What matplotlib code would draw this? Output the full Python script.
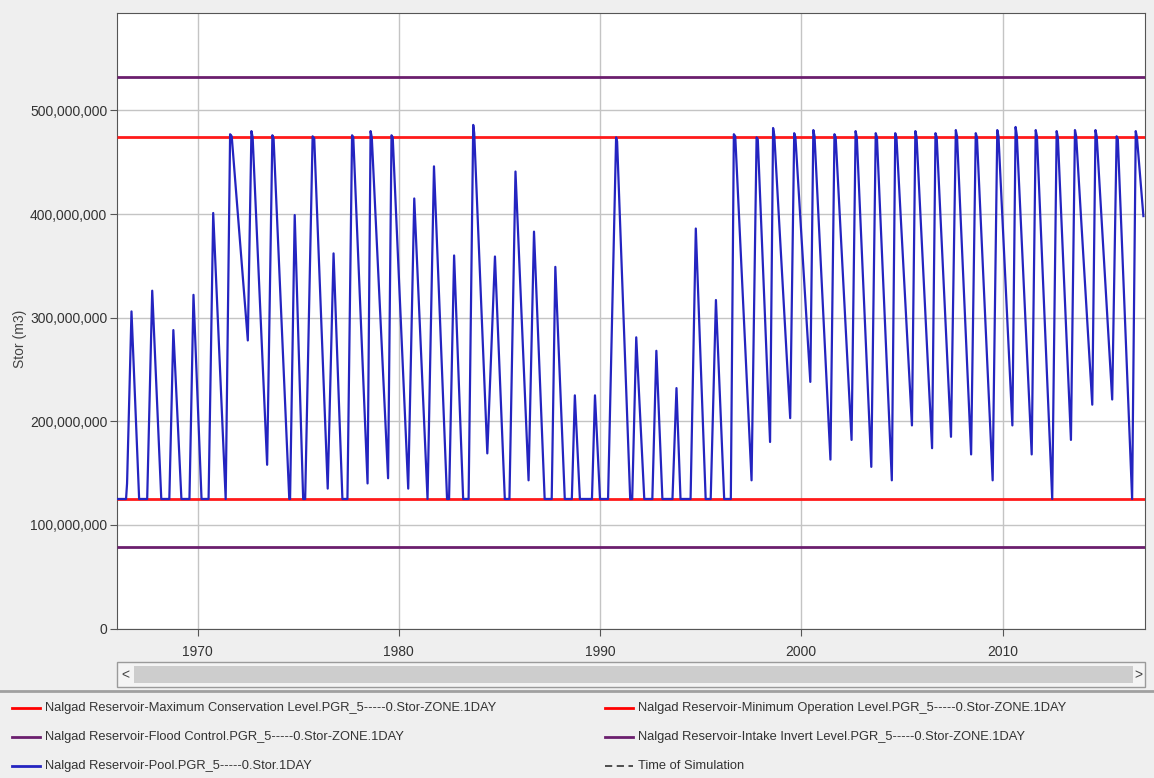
import matplotlib.pyplot as plt
from matplotlib.lines import Line2D
from matplotlib.patches import Rectangle
from matplotlib.ticker import FuncFormatter

plt.rcParams['font.family'] = ['Liberation Sans', 'DejaVu Sans']

# storage turning points of the pool, decimal year -> m3 (millions)
pool_anio = [
    1966.00, 1966.45, 1966.50, 1966.72, 1967.10, 1967.50, 1967.75, 1968.20, 1968.60, 1968.80,
    1969.20, 1969.60, 1969.80, 1970.20, 1970.55, 1970.78, 1971.40, 1971.62, 1971.70,
    1972.50, 1972.68, 1973.46, 1973.72, 1974.56, 1974.60, 1974.83, 1975.25, 1975.35,
    1975.72, 1975.80, 1976.47, 1976.76, 1977.20, 1977.45, 1977.68, 1977.74, 1978.45,
    1978.60, 1979.47, 1979.64, 1979.70, 1980.47, 1980.77, 1981.43, 1981.75, 1982.40,
    1982.50, 1982.75, 1983.20, 1983.47, 1983.70, 1984.40, 1984.78, 1985.27, 1985.50,
    1985.80, 1986.45, 1986.72, 1987.25, 1987.60, 1987.78, 1988.25, 1988.60, 1988.75,
    1989.00, 1989.60, 1989.75, 1990.00, 1990.40, 1990.80, 1991.50, 1991.60, 1991.80,
    1992.20, 1992.60, 1992.80, 1993.10, 1993.60, 1993.80, 1994.00, 1994.50, 1994.76,
    1995.25, 1995.50, 1995.76, 1996.17, 1996.50, 1996.65, 1996.72, 1997.53, 1997.78,
    1998.45, 1998.60, 1999.45, 1999.65, 2000.45, 2000.60, 2001.45, 2001.65, 2002.50,
    2002.70, 2003.48, 2003.70, 2004.50, 2004.67, 2005.50, 2005.67, 2006.50, 2006.67,
    2007.44, 2007.68, 2008.44, 2008.67, 2009.51, 2009.74, 2010.49, 2010.65, 2011.45,
    2011.65, 2012.47, 2012.69, 2013.40, 2013.60, 2014.46, 2014.62, 2015.45, 2015.67,
    2016.44, 2016.62, 2017.00,
]
pool_stor = [
    125, 125, 140, 306, 125, 125, 326, 125, 125, 288,
    125, 125, 322, 125, 125, 401, 125, 477, 475,
    278, 480, 158, 476, 125, 125, 399, 125, 125,
    475, 473, 135, 362, 125, 125, 476, 474, 140,
    480, 145, 476, 474, 135, 415, 125, 446, 125,
    125, 360, 125, 125, 486, 169, 359, 125, 125,
    441, 143, 383, 125, 125, 349, 125, 125, 225,
    125, 125, 225, 125, 125, 474, 125, 125, 281,
    125, 125, 268, 125, 125, 232, 125, 125, 386,
    125, 125, 317, 125, 125, 477, 475, 143, 474,
    180, 483, 203, 478, 238, 481, 163, 477, 182,
    480, 156, 478, 143, 478, 196, 480, 174, 478,
    185, 481, 168, 478, 143, 481, 196, 484, 168,
    481, 125, 480, 182, 481, 216, 481, 221, 475,
    125, 480, 398,
]

# short flat spell just after the full-pool peaks
hombro_anio = [
    1972.74, 1973.78, 1978.66, 1983.75, 1990.85, 1997.84, 1998.66, 1999.71, 2000.66,
    2001.71, 2002.76, 2003.76, 2004.73, 2005.73, 2006.73, 2007.74, 2008.73, 2009.80,
    2010.71, 2011.71, 2012.75, 2013.66, 2014.68, 2015.73, 2016.68,
]
hombro_stor = [
    474, 473, 474, 478, 470, 472, 476, 474, 475,
    474, 474, 474, 474, 474, 474, 475, 474, 475,
    476, 475, 474, 475, 475, 472, 474,
]

# zone levels (m3)
flood_control = 532e6
max_conservacion = 474e6
min_operacion = 125e6
intake_invert = 79e6

etiquetas = [
    ("Nalgad Reservoir-Maximum Conservation Level.PGR_5-----0.Stor-ZONE.1DAY", "#ff0000", "-"),
    ("Nalgad Reservoir-Minimum Operation Level.PGR_5-----0.Stor-ZONE.1DAY", "#ff0000", "-"),
    ("Nalgad Reservoir-Flood Control.PGR_5-----0.Stor-ZONE.1DAY", "#6b1f6e", "-"),
    ("Nalgad Reservoir-Intake Invert Level.PGR_5-----0.Stor-ZONE.1DAY", "#6b1f6e", "-"),
    ("Nalgad Reservoir-Pool.PGR_5-----0.Stor.1DAY", "#2424c0", "-"),
    ("Time of Simulation", "#404040", "--"),
]

puntos = sorted(zip(pool_anio + hombro_anio, pool_stor + hombro_stor))
serie_x = [p[0] for p in puntos]
serie_y = [p[1] * 1e6 for p in puntos]

W, H = 1154, 778
fig = plt.figure(figsize=(W / 100, H / 100), dpi=100, facecolor="#efefef")
ax = fig.add_axes([117 / W, 1 - 628.5 / H, (1145 - 117) / W, (628.5 - 13) / H])
ax.set_facecolor("white")

x0, x1 = 1966.0, 2017.08
for nivel, col in [(flood_control, "#6b1f6e"), (intake_invert, "#6b1f6e"),
                   (max_conservacion, "#ff1a1a"), (min_operacion, "#ff1a1a")]:
    ax.plot([x0, x1], [nivel, nivel], color=col, lw=2, solid_capstyle="butt", zorder=3)

ax.plot(serie_x, serie_y, color="#2424c0", lw=1.6, zorder=4)

ax.set_xlim(x0, x1)
ax.set_ylim(0, 594e6)
ax.set_xticks([1970, 1980, 1990, 2000, 2010])
ax.set_yticks([0, 100e6, 200e6, 300e6, 400e6, 500e6])
ax.yaxis.set_major_formatter(FuncFormatter(lambda v, p: f"{int(v):,}"))
ax.grid(True, color="#c4c4c4", lw=1)
ax.set_axisbelow(True)
ax.tick_params(colors="#555555", labelcolor="#333333", labelsize=10, length=5)
ax.tick_params(axis="y", pad=2)
ax.tick_params(axis="x", pad=7)
for s in ax.spines.values():
    s.set_color("#555555")
ax.set_ylabel("Stor (m3)", fontsize=10, color="#444444")
ax.yaxis.set_label_coords(-0.088, 0.47)

# scrollbar under the plot
fig.patches.append(Rectangle((117 / W, 1 - 687 / H), (1145 - 117) / W, 25 / H,
                             transform=fig.transFigure, facecolor="#f4f4f4",
                             edgecolor="#9a9a9a", lw=1))
fig.patches.append(Rectangle((134 / W, 1 - 683 / H), (1133 - 134) / W, 17 / H,
                             transform=fig.transFigure, facecolor="#cdcdcd",
                             edgecolor="none"))
fig.text(125 / W, 1 - 675 / H, "<", fontsize=10, color="#444444", ha="center", va="center")
fig.text(1138 / W, 1 - 675 / H, ">", fontsize=10, color="#444444", ha="center", va="center")

# separator and legend
fig.add_artist(Line2D([0, 1], [1 - 691 / H] * 2, color="#a0a0a0", lw=2))
filas = [708, 737, 766]
columnas = [12, 605]
for i, (txt, col, ls) in enumerate(etiquetas):
    cx = columnas[i % 2]
    cy = 1 - filas[i // 2] / H
    if ls == "--":
        fig.add_artist(Line2D([cx / W, (cx + 28) / W], [cy, cy], color=col, lw=1.3,
                              dashes=(4, 2.5)))
    else:
        fig.add_artist(Line2D([cx / W, (cx + 28) / W], [cy, cy], color=col, lw=2))
    fig.text((cx + 33) / W, cy, txt, fontsize=9.25, color="#333333", va="center")

fig.savefig("out.png", dpi=100, facecolor=fig.get_facecolor())
